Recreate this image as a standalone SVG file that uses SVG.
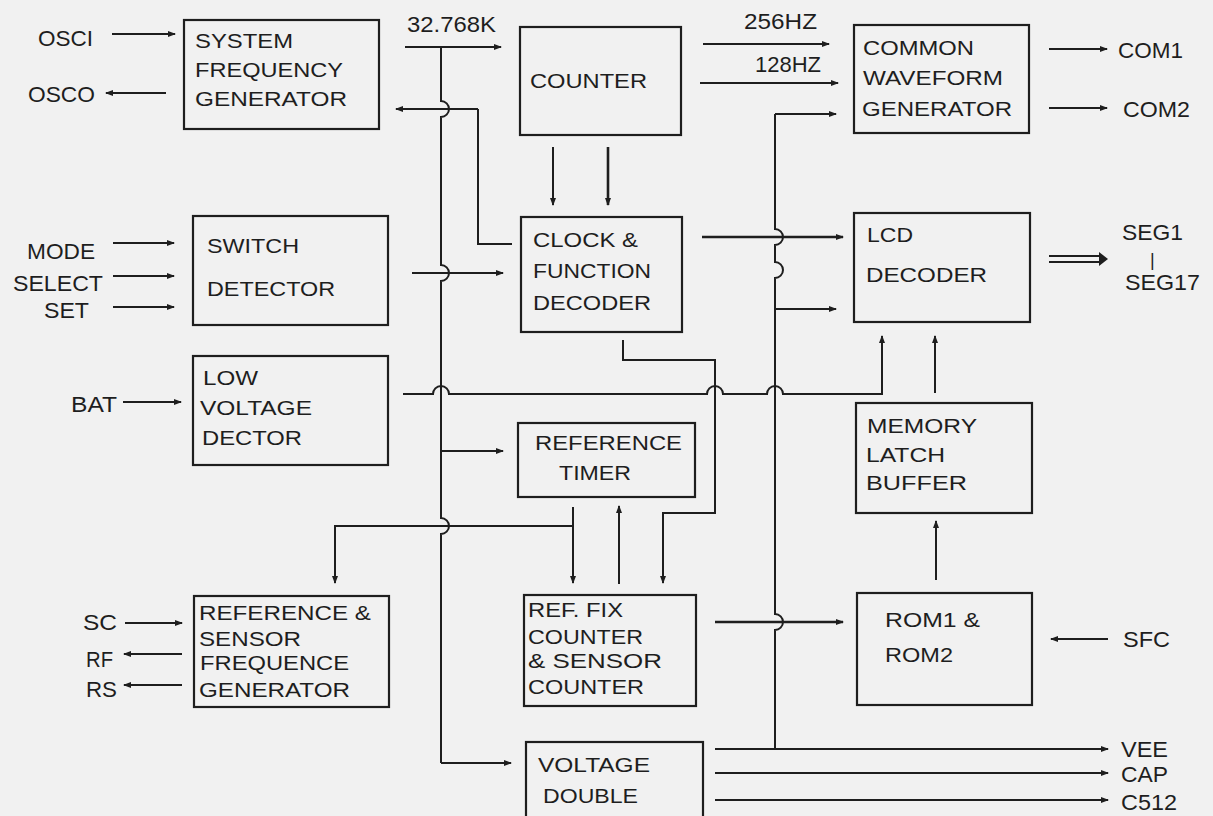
<svg xmlns="http://www.w3.org/2000/svg" width="1213" height="816" viewBox="0 0 1213 816">
<defs>
<marker id="ah" viewBox="0 0 8 6" refX="7" refY="3" markerWidth="8" markerHeight="6" markerUnits="userSpaceOnUse" orient="auto">
<path d="M0,0 L8,3 L0,6 z" fill="#1e1e1e"/>
</marker>
<style>
.bg{fill:#f1f1f1}
.box{fill:none;stroke:#1e1e1e;stroke-width:2.2}
.t{font-family:"Liberation Sans",Arial,sans-serif;font-size:21px;fill:#1e1e1e}
.l{font-family:"Liberation Sans",Arial,sans-serif;font-size:22px;fill:#1e1e1e}
.c{fill:none;stroke:#1e1e1e;stroke-width:2}
.a{fill:none;stroke:#1e1e1e;stroke-width:2;marker-end:url(#ah)}
</style>
</defs>
<rect class="bg" x="0" y="0" width="1213" height="816"/>

<g id="connectors">
<path class="a" d="M112,34 H175"/>
<path class="a" d="M166,93 H106"/>
<path class="a" d="M405,47 H501"/>
<path class="c" d="M441,47 V101 a8,8 0 0 1 0,16 V265 a8,8 0 0 1 0,16 V518 a8,8 0 0 1 0,16 V763"/>
<path class="a" d="M441,763 H511"/>
<path class="a" d="M441,451 H503"/>
<path class="c" d="M512,244 H478 V109"/>
<path class="a" d="M478,109 H396"/>
<path class="a" d="M553,147 V205"/>
<path class="a" d="M608,147 V205" style="stroke-width:2.6"/>
<path class="a" d="M703,44 H829"/>
<path class="a" d="M700,83 H838"/>
<path class="c" d="M775,114 V229 a8,8 0 0 1 0,16 V262 a8,8 0 0 1 0,16 V614 a8,8 0 0 1 0,16 V749"/>
<path class="a" d="M775,114 H836"/>
<path class="a" d="M775,309 H836"/>
<path class="a" d="M702,237 H843" style="stroke-width:2.4"/>
<path class="a" d="M412,273 H503"/>
<path class="c" d="M403,394 H433 a8,8 0 0 1 16,0 H707 a8,8 0 0 1 16,0 H767 a8,8 0 0 1 16,0 H882 V337"/>
<path class="a" d="M882,345 V336"/>
<path class="a" d="M935,393 V336"/>
<path class="a" d="M936,580 V521"/>
<path class="a" d="M1108,639 H1051"/>
<path class="c" d="M1049,256 H1101 M1049,262 H1101"/>
<path d="M1099,252 L1108,259 L1099,266 z" fill="#1e1e1e"/>
<path class="a" d="M1049,49 H1107"/>
<path class="a" d="M1049,108 H1107"/>
<path class="c" d="M623,340 V360 H715 V513 H663 V575"/>
<path class="a" d="M663,570 V583"/>
<path class="a" d="M573,507 V583"/>
<path class="c" d="M573,526 H335 V575"/>
<path class="a" d="M335,570 V583"/>
<path class="a" d="M619,584 V506"/>
<path class="a" d="M715,622 H843" style="stroke-width:2.4"/>
<path class="a" d="M715,749 H1108"/>
<path class="a" d="M715,773 H1108"/>
<path class="a" d="M715,800 H1108"/>
<path class="a" d="M113,243 H174"/>
<path class="a" d="M113,276 H174"/>
<path class="a" d="M113,307 H174"/>
<path class="a" d="M123,402 H181"/>
<path class="a" d="M125,623 H182"/>
<path class="a" d="M182,654 H124"/>
<path class="a" d="M182,685 H124"/>
</g>

<g id="sfg">
<rect class="box" x="184" y="20" width="195" height="109"/>
<text class="t" x="195" y="48" textLength="98" lengthAdjust="spacingAndGlyphs">SYSTEM</text>
<text class="t" x="195" y="77" textLength="148" lengthAdjust="spacingAndGlyphs">FREQUENCY</text>
<text class="t" x="195" y="106" textLength="152" lengthAdjust="spacingAndGlyphs">GENERATOR</text>
</g>
<g id="counter">
<rect class="box" x="520" y="27" width="161" height="108"/>
<text class="t" x="530" y="88" textLength="117" lengthAdjust="spacingAndGlyphs">COUNTER</text>
</g>
<g id="cwg">
<rect class="box" x="854" y="25" width="175" height="108"/>
<text class="t" x="863" y="55" textLength="111" lengthAdjust="spacingAndGlyphs">COMMON</text>
<text class="t" x="863" y="85" textLength="140" lengthAdjust="spacingAndGlyphs">WAVEFORM</text>
<text class="t" x="862" y="116" textLength="150" lengthAdjust="spacingAndGlyphs">GENERATOR</text>
</g>
<g id="switch">
<rect class="box" x="193" y="216" width="195" height="109"/>
<text class="t" x="207" y="253" textLength="92" lengthAdjust="spacingAndGlyphs">SWITCH</text>
<text class="t" x="207" y="296" textLength="128" lengthAdjust="spacingAndGlyphs">DETECTOR</text>
</g>
<g id="lowvolt">
<rect class="box" x="193" y="356" width="195" height="109"/>
<text class="t" x="203" y="385" textLength="55" lengthAdjust="spacingAndGlyphs">LOW</text>
<text class="t" x="200" y="415" textLength="112" lengthAdjust="spacingAndGlyphs">VOLTAGE</text>
<text class="t" x="202" y="445" textLength="100" lengthAdjust="spacingAndGlyphs">DECTOR</text>
</g>
<g id="clock">
<rect class="box" x="521" y="217" width="161" height="115"/>
<text class="t" x="533" y="247" textLength="105" lengthAdjust="spacingAndGlyphs">CLOCK &amp;</text>
<text class="t" x="533" y="278" textLength="118" lengthAdjust="spacingAndGlyphs">FUNCTION</text>
<text class="t" x="533" y="310" textLength="118" lengthAdjust="spacingAndGlyphs">DECODER</text>
</g>
<g id="lcd">
<rect class="box" x="854" y="213" width="176" height="109"/>
<text class="t" x="867" y="242" textLength="46" lengthAdjust="spacingAndGlyphs">LCD</text>
<text class="t" x="866" y="282" textLength="121" lengthAdjust="spacingAndGlyphs">DECODER</text>
</g>
<g id="memory">
<rect class="box" x="856" y="403" width="176" height="110"/>
<text class="t" x="867" y="433" textLength="110" lengthAdjust="spacingAndGlyphs">MEMORY</text>
<text class="t" x="866" y="462" textLength="79" lengthAdjust="spacingAndGlyphs">LATCH</text>
<text class="t" x="866" y="490" textLength="101" lengthAdjust="spacingAndGlyphs">BUFFER</text>
</g>
<g id="reftimer">
<rect class="box" x="518" y="423" width="177" height="74"/>
<text class="t" x="535" y="450" textLength="147" lengthAdjust="spacingAndGlyphs">REFERENCE</text>
<text class="t" x="559" y="480" textLength="72" lengthAdjust="spacingAndGlyphs">TIMER</text>
</g>
<g id="refsensor">
<rect class="box" x="194" y="596" width="195" height="111"/>
<text class="t" x="199" y="620" textLength="172" lengthAdjust="spacingAndGlyphs">REFERENCE &amp;</text>
<text class="t" x="199" y="646" textLength="102" lengthAdjust="spacingAndGlyphs">SENSOR</text>
<text class="t" x="200" y="670" textLength="149" lengthAdjust="spacingAndGlyphs">FREQUENCE</text>
<text class="t" x="199" y="697" textLength="151" lengthAdjust="spacingAndGlyphs">GENERATOR</text>
</g>
<g id="reffix">
<rect class="box" x="524" y="595" width="172" height="111"/>
<text class="t" x="528" y="617" textLength="95" lengthAdjust="spacingAndGlyphs">REF. FIX</text>
<text class="t" x="528" y="644" textLength="115" lengthAdjust="spacingAndGlyphs">COUNTER</text>
<text class="t" x="528" y="668" textLength="134" lengthAdjust="spacingAndGlyphs">&amp;  SENSOR</text>
<text class="t" x="528" y="694" textLength="116" lengthAdjust="spacingAndGlyphs">COUNTER</text>
</g>
<g id="rom">
<rect class="box" x="857" y="593" width="175" height="112"/>
<text class="t" x="885" y="627" textLength="95" lengthAdjust="spacingAndGlyphs">ROM1  &amp;</text>
<text class="t" x="885" y="662" textLength="68" lengthAdjust="spacingAndGlyphs">ROM2</text>
</g>
<g id="vdouble">
<rect class="box" x="526" y="742" width="177" height="80"/>
<text class="t" x="538" y="772" textLength="112" lengthAdjust="spacingAndGlyphs">VOLTAGE</text>
<text class="t" x="543" y="803" textLength="95" lengthAdjust="spacingAndGlyphs">DOUBLE</text>
</g>

<g id="labels">
<text class="l" x="38" y="46" textLength="55" lengthAdjust="spacingAndGlyphs">OSCI</text>
<text class="l" x="28" y="102" textLength="67" lengthAdjust="spacingAndGlyphs">OSCO</text>
<text class="l" x="407" y="32" textLength="89" lengthAdjust="spacingAndGlyphs">32.768K</text>
<text class="l" x="744" y="29" textLength="73" lengthAdjust="spacingAndGlyphs">256HZ</text>
<text class="l" x="755" y="72" textLength="66" lengthAdjust="spacingAndGlyphs">128HZ</text>
<text class="l" x="1118" y="58" textLength="65" lengthAdjust="spacingAndGlyphs">COM1</text>
<text class="l" x="1123" y="117" textLength="67" lengthAdjust="spacingAndGlyphs">COM2</text>
<text class="l" x="27" y="259" textLength="68" lengthAdjust="spacingAndGlyphs">MODE</text>
<text class="l" x="13" y="291" textLength="90" lengthAdjust="spacingAndGlyphs">SELECT</text>
<text class="l" x="44" y="318" textLength="45" lengthAdjust="spacingAndGlyphs">SET</text>
<text class="l" x="71" y="412" textLength="46" lengthAdjust="spacingAndGlyphs">BAT</text>
<text class="l" x="1122" y="240" textLength="61" lengthAdjust="spacingAndGlyphs">SEG1</text>
<text class="l" x="1150" y="266" style="font-size:18px">|</text>
<text class="l" x="1125" y="290" textLength="75" lengthAdjust="spacingAndGlyphs">SEG17</text>
<text class="l" x="83" y="630" textLength="34" lengthAdjust="spacingAndGlyphs">SC</text>
<text class="l" x="86" y="667" textLength="27" lengthAdjust="spacingAndGlyphs">RF</text>
<text class="l" x="86" y="697" textLength="31" lengthAdjust="spacingAndGlyphs">RS</text>
<text class="l" x="1123" y="647" textLength="47" lengthAdjust="spacingAndGlyphs">SFC</text>
<text class="l" x="1121" y="757" textLength="47" lengthAdjust="spacingAndGlyphs">VEE</text>
<text class="l" x="1121" y="782" textLength="47" lengthAdjust="spacingAndGlyphs">CAP</text>
<text class="l" x="1121" y="810" textLength="56" lengthAdjust="spacingAndGlyphs">C512</text>
</g>
</svg>
